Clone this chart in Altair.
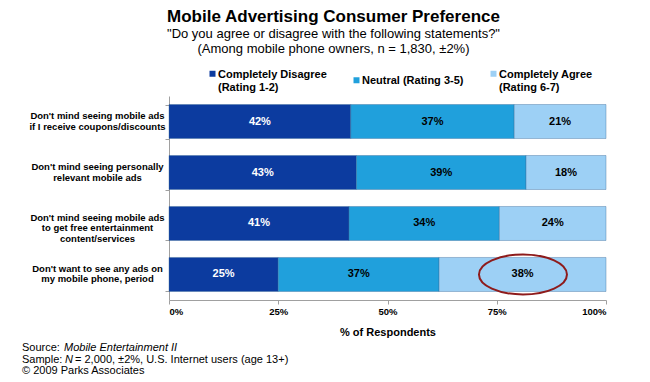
import altair as alt
import pandas as pd

statements = [
    "Don't mind seeing mobile ads\nif I receive coupons/discounts",
    "Don't mind seeing personally\nrelevant mobile ads",
    "Don't mind seeing mobile ads\nto get free entertainment\ncontent/services",
    "Don't want to see any ads on\nmy mobile phone, period",
]
series = [
    "Completely Disagree\n(Rating 1-2)",
    "Neutral (Rating 3-5)",
    "Completely Agree\n(Rating 6-7)",
]
# values (labels show them rounded)
disagree = [41.6, 42.9, 41.2, 25.0]
neutral = [37.4, 38.8, 34.4, 36.8]
agree = [21.0, 18.3, 24.4, 38.2]
colors = ["#0c3b9f", "#20a0dc", "#9dd0f5"]
x_ticks = [0, 25, 50, 75, 100]

highlight_statement = statements[3]
highlight_value = 81

title_text = "Mobile Advertising Consumer Preference"
subtitle_lines = [
    "\"Do you agree or disagree with the following statements?\"",
    "(Among mobile phone owners, n = 1,830, \u00b12%)",
]

FONT = "Liberation Sans"

rows = []
for i, st in enumerate(statements):
    for j, (s, vals) in enumerate(zip(series, [disagree, neutral, agree])):
        rows.append({"statement": st, "series": s, "order": j, "value": vals[i]})
df = pd.DataFrame(rows)

base = (
    alt.Chart(df)
    .transform_stack(
        stack="value",
        as_=["x0", "x1"],
        groupby=["statement"],
        sort=[alt.SortField("order", order="ascending")],
    )
    .transform_calculate(
        mid="(datum.x0 + datum.x1) / 2", lab="format(datum.value, '.0f') + '%'"
    )
)

yenc = alt.Y(
    "statement:N",
    sort=statements,
    scale=alt.Scale(paddingInner=0.333, paddingOuter=0.167),
    axis=alt.Axis(
        title=None,
        labelExpr="split(datum.label, '\\n')",
        labelFont=FONT,
        labelFontSize=9.5,
        labelFontWeight="bold",
        labelColor="#000000",
        labelAlign="center",
        labelBaseline="middle",
        labelLineHeight=10.5,
        labelOffset={"expr": "-6"},
        labelPadding=68,
        labelLimit=300,
        tickBand="extent",
        tickSize=4,
        tickColor="#a0a0a0",
        domainColor="#a0a0a0",
    ),
)

square_path = "M-1,-2.33H1V-0.33H-1Z"

bars = base.mark_bar(stroke="#3a6a98", strokeWidth=0.4).encode(
    x=alt.X(
        "x0:Q",
        scale=alt.Scale(domain=[0, 100], nice=False),
        axis=alt.Axis(
            values=x_ticks,
            labelExpr="datum.value + '%'",
            title="% of Respondents",
            titleFont=FONT,
            titleFontSize=11,
            titleFontWeight="bold",
            titleColor="#000000",
            titlePadding=11,
            labelFont=FONT,
            labelFontSize=9.5,
            labelFontWeight="bold",
            labelColor="#000000",
            labelPadding=2,
            tickSize=4,
            tickColor="#a0a0a0",
            domainColor="#a0a0a0",
            grid=False,
        ),
    ),
    x2="x1:Q",
    y=yenc,
    color=alt.Color(
        "series:N",
        sort=series,
        scale=alt.Scale(domain=series, range=colors),
        legend=alt.Legend(
            orient="none",
            legendX=38,
            legendY=-24,
            direction="horizontal",
            title=None,
            labelExpr="split(datum.label, '\\n')",
            labelFont=FONT,
            labelFontSize=11,
            labelFontWeight="bold",
            labelColor="#000000",
            labelBaseline="alphabetic",
            labelLimit=300,
            labelOffset=0,
            symbolType=square_path,
            symbolSize=36,
            symbolStrokeWidth=0,
            columnPadding=24,
        ),
    ),
    order=alt.Order("order:Q"),
)

labels = base.mark_text(font=FONT, fontSize=11, fontWeight="bold", baseline="middle").encode(
    x="mid:Q",
    y=alt.Y("statement:N", sort=statements),
    text="lab:N",
    color=alt.condition(
        alt.datum.series == series[0], alt.value("#ffffff"), alt.value("#000000")
    ),
)

ellipse_path = "M-1,0A1,0.4545,0,1,1,1,0A1,0.4545,0,1,1,-1,0Z"
anno = (
    alt.Chart(pd.DataFrame({"statement": [highlight_statement], "v": [highlight_value]}))
    .mark_point(shape=ellipse_path, size=7744, filled=False, stroke="#8e1b1b", strokeWidth=2, opacity=1)
    .encode(x="v:Q", y=alt.Y("statement:N", sort=statements))
)

one = pd.DataFrame({"a": [0]})


def note(text, x, y, italic=False):
    return (
        alt.Chart(one)
        .mark_text(
            text=text,
            font=FONT,
            fontSize=11,
            fontStyle="italic" if italic else "normal",
            align="left",
            baseline="alphabetic",
            color="#000000",
        )
        .encode(x=alt.value(x), y=alt.value(y))
    )


notes = [
    note("Source:", -147, 255),
    note("Mobile Entertainment II", -105, 255, True),
    note("Sample:", -147, 266.5),
    note("N", -104, 266.5, True),
    note("= 2,000, \u00b12%, U.S. Internet users (age 13+)", -94, 266.5),
    note("\u00a9 2009 Parks Associates", -147, 277.5),
]

chart = (
    alt.layer(bars, labels, anno, *notes)
    .properties(
        width=437,
        height=204,
        autosize=alt.AutoSizeParams(type="none"),
        padding={"left": 161, "top": 88, "right": 30, "bottom": 74},
        title=alt.TitleParams(
            text=title_text,
            subtitle=subtitle_lines,
            font=FONT,
            fontSize=17,
            fontWeight="bold",
            color="#000000",
            subtitleFont=FONT,
            subtitleFontSize=13,
            subtitleColor="#000000",
            subtitleLineHeight=15,
            subtitlePadding=2,
            anchor="middle",
            frame="group",
            dx=-54,
            offset=15,
        ),
    )
    .configure_view(stroke=None)
)

chart.save("out.html", embed_options={"renderer": "svg", "actions": False})
